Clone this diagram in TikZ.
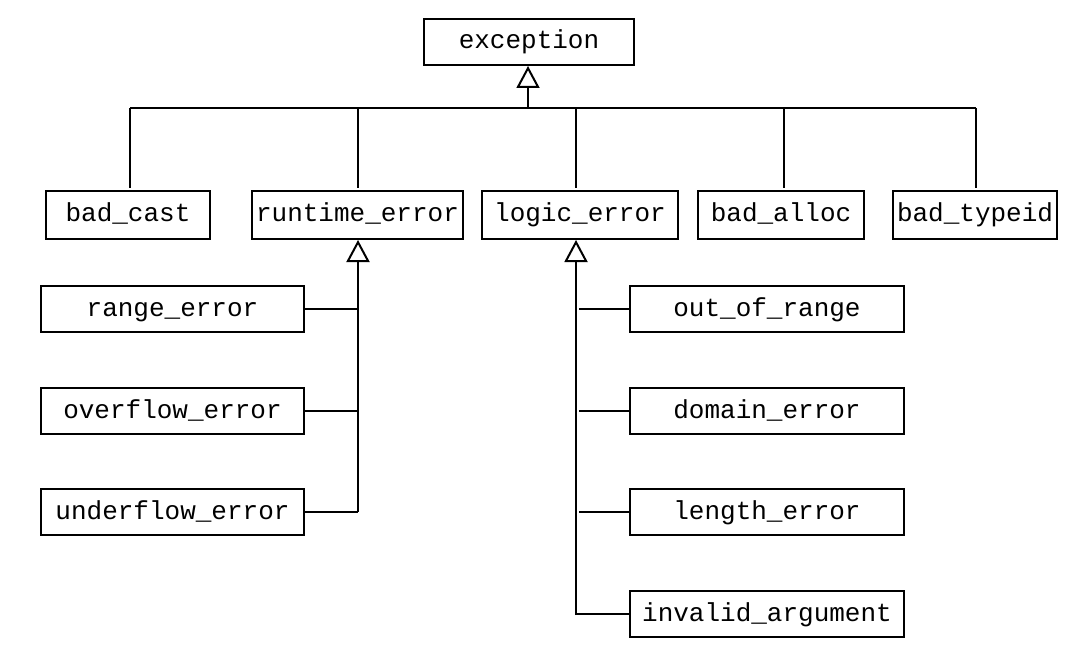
\documentclass[tikz,border=0pt]{standalone}
\usepackage{fontspec}
\setmonofont{Liberation Mono}
\usetikzlibrary{arrows.meta}
\begin{document}
\begin{tikzpicture}[x=0.75pt,y=-0.75pt,
  box/.style={draw,line width=1.5pt,inner sep=0pt,font=\ttfamily\fontsize{19.5}{20}\selectfont,minimum height=34.5pt,text height=14.5pt,text depth=4pt},
  conn/.style={line width=1.5pt},
  inh/.style={line width=1.5pt,-{Triangle[open,length=16.5pt,width=17.25pt,line width=1.5pt]}}]
\useasboundingbox (0,0) rectangle (1077,659);
\node[box,minimum width=157.5pt] (exception) at (529,42) {exception};
\node[box,minimum width=123pt,minimum height=36pt] (badcast) at (128,215) {bad\_cast};
\node[box,minimum width=158.25pt,minimum height=36pt] (runtime) at (357.5,215) {runtime\_error};
\node[box,minimum width=147pt,minimum height=36pt] (logic) at (580,215) {logic\_error};
\node[box,minimum width=124.5pt,minimum height=36pt] (badalloc) at (781,215) {bad\_alloc};
\node[box,minimum width=123pt,minimum height=36pt] (badtypeid) at (975,215) {bad\_typeid};
\node[box,minimum width=197.25pt] (range) at (172.5,309) {range\_error};
\node[box,minimum width=197.25pt] (overflow) at (172.5,411) {overflow\_error};
\node[box,minimum width=197.25pt] (underflow) at (172.5,512) {underflow\_error};
\node[box,minimum width=205.5pt] (outofrange) at (767,309) {out\_of\_range};
\node[box,minimum width=205.5pt] (domain) at (767,411) {domain\_error};
\node[box,minimum width=205.5pt] (length) at (767,512) {length\_error};
\node[box,minimum width=205.5pt] (invalid) at (767,614) {invalid\_argument};
% top hierarchy
\coordinate (bus) at (528,108);
\coordinate (busL) at (130,108);
\coordinate (busR) at (976,108);
\draw[inh] (bus) -- (bus |- exception.south);
\draw[conn] (busL) -- (busR);
\coordinate (vc) at (130,188);
\coordinate (vr) at (358,188);
\coordinate (vl) at (576,188);
\coordinate (va) at (784,188);
\coordinate (vt) at (976,188);
\draw[conn] (busL) -- (vc);
\draw[conn] (vr |- bus) -- (vr);
\draw[conn] (vl |- bus) -- (vl);
\draw[conn] (va |- bus) -- (va);
\draw[conn] (busR) -- (vt);
% runtime_error subtree
\coordinate (rbot) at (358,512);
\draw[inh] (rbot) -- (rbot |- runtime.south);
\draw[conn] (range.east) -- (range.east -| rbot);
\draw[conn] (overflow.east) -- (overflow.east -| rbot);
\draw[conn] (underflow.east) -- (rbot);
% logic_error subtree
\coordinate (lbot) at (576,615);
\draw[inh] (lbot) -- (lbot |- logic.south);
\draw[conn,shorten >=2.25pt] (outofrange.west) -- (outofrange.west -| lbot);
\draw[conn,shorten >=2.25pt] (domain.west) -- (domain.west -| lbot);
\draw[conn,shorten >=2.25pt] (length.west) -- (length.west -| lbot);
\draw[conn] (invalid.west) -- (invalid.west -| lbot) -- (lbot);
\end{tikzpicture}
\end{document}
